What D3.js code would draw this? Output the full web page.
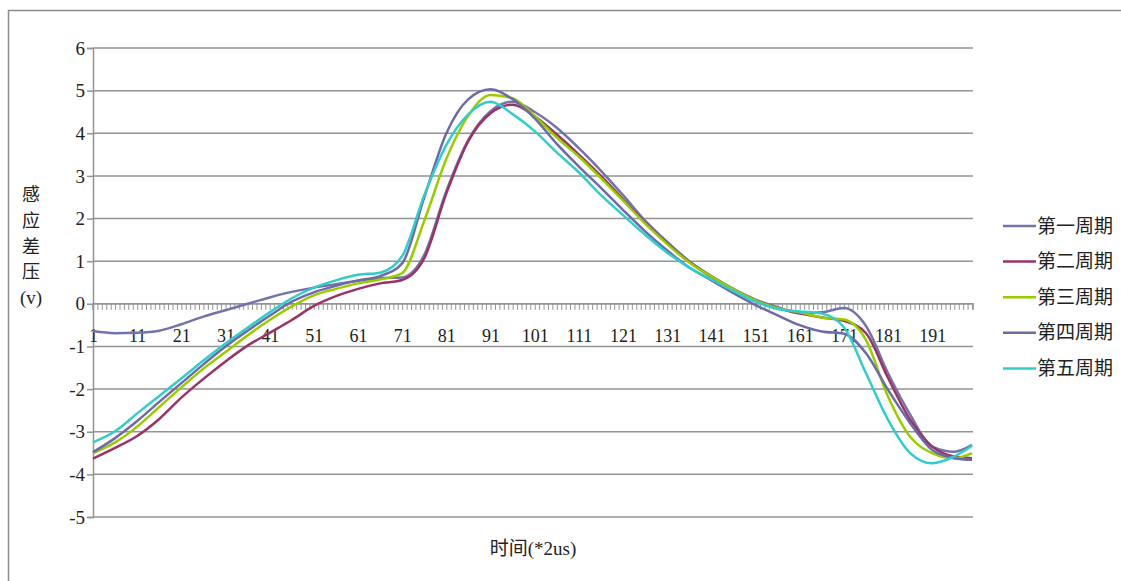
<!DOCTYPE html>
<html>
<head>
<meta charset="utf-8">
<script src="https://cdn.jsdelivr.net/npm/d3@7"></script>
<style>
  body { margin: 0; background: #fff; }
  svg { display: block; }
  svg text { font-family: "Liberation Serif", "Times New Roman", "Noto Sans CJK SC", serif; fill: #222; }
</style>
</head>
<body>
<svg id="chart" width="1121" height="581"></svg>
<script>
// category axis: 200 samples, labels every 10
const categories = d3.range(1, 201);
const tickLabels = [1, 11, 21, 31, 41, 51, 61, 71, 81, 91, 101, 111, 121, 131, 141, 151, 161, 171, 181, 191];
const yTicks = [-5, -4, -3, -2, -1, 0, 1, 2, 3, 4, 5, 6];

// sample positions the values were read at
const sampleCats = [1, 6, 11, 16, 21, 26, 31, 36, 41, 46, 51, 56, 61, 66, 71, 76, 81, 86, 91, 96,
  101, 106, 111, 116, 121, 126, 131, 136, 141, 146, 151, 156, 161, 166, 171, 176, 181, 186, 191, 196, 200];

const seriesNames = ["第一周期", "第二周期", "第三周期", "第四周期", "第五周期"];
const seriesColors = ["#7373aa", "#993366", "#99cc00", "#6d6ba6", "#33cccc"];

const period1 = [-0.64, -0.69, -0.68, -0.63, -0.48, -0.3, -0.15, 0.0, 0.15, 0.28, 0.38, 0.46, 0.54, 0.6, 0.62,
  1.15, 2.65, 3.85, 4.52, 4.74, 4.5, 4.13, 3.65, 3.12, 2.55, 1.95, 1.45, 1.0, 0.65, 0.35,
  0.1, -0.08, -0.22, -0.2, -0.1, -0.52, -1.63, -2.6, -3.35, -3.47, -3.31];
const period2 = [-3.63, -3.38, -3.1, -2.7, -2.2, -1.76, -1.35, -0.98, -0.68, -0.38, -0.05, 0.18, 0.35, 0.48, 0.56,
  1.07, 2.59, 3.82, 4.47, 4.67, 4.4, 3.97, 3.5, 3.0, 2.45, 1.9, 1.42, 0.98, 0.63, 0.33,
  0.08, -0.1, -0.22, -0.32, -0.4, -0.69, -1.74, -2.72, -3.35, -3.58, -3.62];
const period3 = [-3.5, -3.25, -2.88, -2.42, -1.96, -1.52, -1.13, -0.74, -0.38, -0.06, 0.2, 0.35, 0.48, 0.57, 0.72,
  1.95, 3.4, 4.42, 4.9, 4.82, 4.4, 3.9, 3.45, 2.95, 2.42, 1.88, 1.4, 0.97, 0.64, 0.34,
  0.08, -0.1, -0.2, -0.32, -0.37, -0.85, -2.18, -3.12, -3.5, -3.62, -3.5];
const period4 = [-3.48, -3.15, -2.75, -2.3, -1.86, -1.42, -1.0, -0.63, -0.28, 0.05, 0.27, 0.42, 0.55, 0.65, 0.95,
  2.5, 4.0, 4.8, 5.03, 4.8, 4.35, 3.75, 3.22, 2.72, 2.2, 1.7, 1.25, 0.85, 0.55, 0.25,
  -0.03, -0.27, -0.5, -0.65, -0.7, -1.16, -2.02, -2.8, -3.43, -3.62, -3.66];
const period5 = [-3.25, -2.99, -2.57, -2.16, -1.75, -1.33, -0.93, -0.56, -0.2, 0.13, 0.38, 0.55, 0.68, 0.73, 1.12,
  2.55, 3.73, 4.45, 4.74, 4.45, 4.05, 3.55, 3.08, 2.55, 2.08, 1.62, 1.2, 0.85, 0.57, 0.3,
  0.05, -0.12, -0.18, -0.23, -0.55, -1.63, -2.72, -3.5, -3.74, -3.58, -3.33];

const allSeries = [period1, period2, period3, period4, period5];

const svg = d3.select("#chart");
const grey = "#939393";

// chart frame
svg.append("rect")
  .attr("x", 8.5).attr("y", 10.5)
  .attr("width", 1130).attr("height", 590)
  .attr("fill", "none")
  .attr("stroke", "#8a8a8a")
  .attr("stroke-width", 1.5);

const x = d3.scalePoint().domain(categories).range([93, 972]);
const y = d3.scaleLinear().domain([-5, 6]).range([517, 48]);

// horizontal gridlines
svg.append("g")
  .selectAll("line")
  .data(yTicks)
  .join("line")
  .attr("x1", 93).attr("x2", 973)
  .attr("y1", d => y(d)).attr("y2", d => y(d))
  .attr("stroke", grey)
  .attr("stroke-width", 1.5);

// y axis
const yAxis = svg.append("g")
  .attr("transform", "translate(93,0)")
  .call(d3.axisLeft(y).tickValues(yTicks).tickSize(6).tickPadding(2).tickFormat(d => d < 0 ? "-" + Math.abs(d) : d));
yAxis.attr("font-family", null).attr("font-size", null);
yAxis.select(".domain").attr("stroke", grey).attr("stroke-width", 1.5);
yAxis.selectAll(".tick line").attr("stroke", grey).attr("stroke-width", 1.5);
yAxis.selectAll("text").attr("fill", "#222").style("font-size", "19px");

// x axis sits on zero, ticks at every category
const xAxis = svg.append("g")
  .attr("transform", `translate(0,${y(0)})`)
  .call(d3.axisBottom(x).tickValues(categories).tickSize(6).tickFormat(""));
xAxis.select(".domain").attr("stroke", grey).attr("stroke-width", 1.5)
  .attr("d", "M93,6V0H973V6");
xAxis.selectAll(".tick line").attr("stroke", grey).attr("stroke-width", 1);

const xLabels = svg.append("g")
  .attr("transform", `translate(0,${y(0)})`)
  .call(d3.axisBottom(x).tickValues(tickLabels).tickSize(0).tickPadding(25));
xLabels.attr("font-family", null).attr("font-size", null);
xLabels.select(".domain").remove();
xLabels.selectAll("text").attr("fill", "#222").style("font-size", "18px");

// series lines
const line = d3.line()
  .x((d, i) => x(sampleCats[i]))
  .y(d => y(d))
  .curve(d3.curveMonotoneX);

svg.append("g")
  .selectAll("path")
  .data(allSeries)
  .join("path")
  .attr("d", d => line(d))
  .attr("fill", "none")
  .attr("stroke", (d, i) => seriesColors[i])
  .attr("stroke-width", 2.5)
  .attr("stroke-linejoin", "round");

// y axis title, stacked
const yTitle = ["感", "应", "差", "压", "(v)"];
svg.append("g")
  .selectAll("text")
  .data(yTitle)
  .join("text")
  .attr("x", 31)
  .attr("y", (d, i) => 195 + i * 25.7)
  .attr("dy", "0.35em")
  .attr("text-anchor", "middle")
  .style("font-size", (d, i) => i === 4 ? "19px" : "18px")
  .text(d => d);

// x axis title
svg.append("text")
  .attr("x", 533).attr("y", 548)
  .attr("dy", "0.35em")
  .attr("text-anchor", "middle")
  .style("font-size", "19px")
  .text("时间(*2us)");

// legend
const legend = svg.append("g")
  .selectAll("g")
  .data(seriesNames)
  .join("g")
  .attr("transform", (d, i) => `translate(0,${226 + i * 35.6})`);
legend.append("line")
  .attr("x1", 1003).attr("x2", 1036)
  .attr("stroke", (d, i) => seriesColors[i])
  .attr("stroke-width", 2.5);
legend.append("text")
  .attr("x", 1037)
  .attr("dy", "0.35em")
  .style("font-size", "19px")
  .text(d => d);
</script>
</body>
</html>
